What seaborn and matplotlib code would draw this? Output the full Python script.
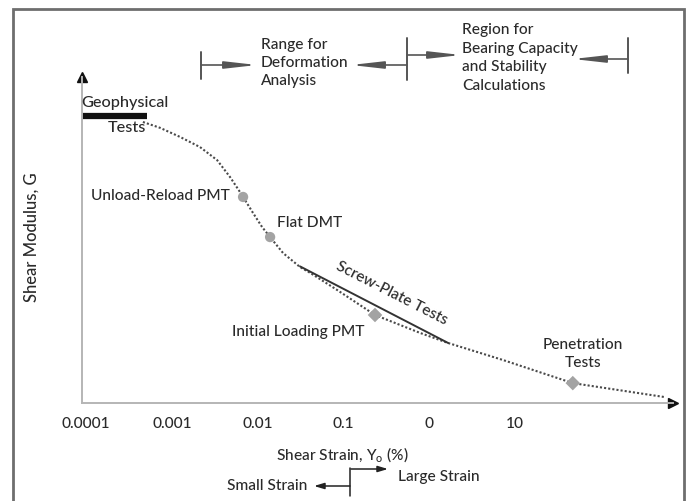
import matplotlib
matplotlib.use("Agg")
import matplotlib.pyplot as plt
import seaborn as sns
import pandas as pd
from matplotlib.patches import Rectangle

# ---------------- data ----------------
strain = [4.6e-4, 7.3e-4, 1.25e-3, 2.13e-3, 3.37e-3, 4.77e-3, 6.23e-3, 6.76e-3,
          8.83e-3, 0.01125, 0.01396, 0.01977, 0.0312, 0.041, 0.084, 0.233,
          0.78, 1.66, 7.2, 47, 560]
modulus = [86.2, 84.4, 81.6, 78.5, 74.5, 69.3, 64.7, 63.2,
           58.3, 54.0, 50.9, 46.0, 41.7, 39.9, 34.7, 27.0,
           21.5, 18.4, 13.2, 6.1, 1.8]

test_names = ["Unload-Reload PMT", "Flat DMT", "Initial Loading PMT", "Penetration Tests"]
test_strain = [6.76e-3, 0.01396, 0.233, 47]
test_modulus = [63.2, 50.9, 27.0, 6.1]
test_shape = ["circle", "circle", "diamond", "diamond"]

screw_strain = [0.0312, 1.66]
screw_modulus = [41.9, 18.4]

geo_strain = [9.0e-5, 5.1e-4]
geo_modulus = [88.0, 88.0]

xtick_values = [1e-4, 1e-3, 1e-2, 1e-1, 1, 10]
xtick_labels = ["0.0001", "0.001", "0.01", "0.1", "0", "10"]
ytick_values = [73.3, 55.2]
ytick_colors = ["#9a9a9a", "#222222"]

# ---------------- style ----------------
sns.set_theme(style="white")
plt.rcParams["font.family"] = ["Lato", "DejaVu Sans"]
plt.rcParams["font.weight"] = "medium"
plt.rcParams["mathtext.fontset"] = "custom"
plt.rcParams["mathtext.rm"] = "Lato"
plt.rcParams["mathtext.it"] = "Lato:italic"
TXT = "#2a2a2a"
FS = 11.2

W, H = 689, 501
fig = plt.figure(figsize=(W / 100, H / 100), dpi=100)
ax = fig.add_axes([82 / W, (H - 403) / H, (673 - 82) / W, (403 - 77) / H])


def P(x, y):
    return (x / W, 1 - y / H)


# curve
df = pd.DataFrame({"strain": strain, "G": modulus})
sns.lineplot(data=df, x="strain", y="G", ax=ax, color="#4a4a4a", lw=1.5,
             linestyle=(0, (1, 1)), sort=False, estimator=None)

# screw-plate solid line
sns.lineplot(x=screw_strain, y=screw_modulus, ax=ax, color="#333333", lw=1.4)

# geophysical bar
sns.lineplot(x=geo_strain, y=geo_modulus, ax=ax, color="#111111", lw=4.5,
             solid_capstyle="butt")

# test markers
dm = pd.DataFrame({"strain": test_strain, "G": test_modulus, "shape": test_shape})
sns.scatterplot(data=dm, x="strain", y="G", style="shape",
                markers={"circle": "o", "diamond": "D"}, color="#a3a3a3",
                s=55, edgecolor="none", ax=ax, legend=False, zorder=5)

ax.set_xscale("log")
ax.set_xlim(10 ** -4.047, 10 ** 2.84)
ax.set_ylim(0, 100)
ax.set_xticks(xtick_values)
ax.set_xticklabels(xtick_labels)
ax.xaxis.set_minor_locator(matplotlib.ticker.NullLocator())
ax.tick_params(axis="x", length=0, pad=10, labelsize=FS, labelcolor=TXT)
ax.set_yticks(ytick_values)
ax.set_yticklabels(["", ""])
ax.tick_params(axis="y", direction="inout", length=17, width=1.4)
for t, c in zip(ax.yaxis.get_major_ticks(), ytick_colors):
    t.tick1line.set_color(c)
ax.set_xlabel("")
ax.set_ylabel("")
for s in ["top", "right"]:
    ax.spines[s].set_visible(False)
for s in ["left", "bottom"]:
    ax.spines[s].set_color("#b5b5b5")
    ax.spines[s].set_linewidth(1.4)

# axis arrowheads
ax.plot([1], [0], marker=">", color="#111111", ms=7, transform=ax.transAxes, clip_on=False)
ax.plot([0], [1], marker="^", color="#111111", ms=7, transform=ax.transAxes, clip_on=False)

# axis titles
fig.text(*P(342, 455), "Shear Strain, Υ$_\\mathrm{o}$ (%)", ha="center", va="center",
         fontsize=FS, color=TXT)
fig.text(*P(32, 237), "Shear Modulus, G", ha="center", va="center", rotation=90,
         fontsize=12, color=TXT)

# annotations near curve
fig.text(*P(125, 103), "Geophysical", ha="center", va="center", fontsize=FS + 0.5, color=TXT)
fig.text(*P(127, 128), "Tests", ha="center", va="center", fontsize=FS + 0.5, color=TXT)
fig.text(*P(230, 196), test_names[0], ha="right", va="center", fontsize=FS, color=TXT)
fig.text(*P(277, 223), test_names[1], ha="left", va="center", fontsize=FS, color=TXT)
fig.text(*P(365, 332), test_names[2], ha="right", va="center", fontsize=FS, color=TXT)
fig.text(*P(583, 354), "Penetration\nTests", ha="center", va="center", fontsize=FS,
         color=TXT, linespacing=1.4)
fig.text(*P(392, 293), "Screw-Plate Tests", ha="center", va="center", rotation=-27,
         fontsize=FS, color=TXT, rotation_mode="anchor")

# top range annotations
GR = "#555555"
top_head = "-|>,head_length=1.6,head_width=0.18"


def arrow(tail, tip, style, color, lw=1.2):
    fig.add_artist(matplotlib.patches.FancyArrowPatch(
        P(*tail), P(*tip), transform=fig.transFigure, arrowstyle=style,
        mutation_scale=12, color=color, lw=lw, shrinkA=0, shrinkB=0))


def vbar(x, y0, y1, color, lw=1.4):
    fig.add_artist(matplotlib.lines.Line2D([x / W, x / W], [1 - y0 / H, 1 - y1 / H],
                                           transform=fig.transFigure, color=color, lw=lw))


vbar(201, 52, 79, GR)
arrow((201, 65), (257, 65), top_head, GR)
fig.text(*P(261, 63), "Range for\nDeformation\nAnalysis", ha="left", va="center",
         fontsize=FS, color=TXT, linespacing=1.4)
arrow((407, 65), (351, 65), top_head, GR)
vbar(407, 38, 80, GR)
arrow((407, 55), (461, 55), top_head, GR)
fig.text(*P(462, 58), "Region for\nBearing Capacity\nand Stability\nCalculations",
         ha="left", va="center", fontsize=FS, color=TXT, linespacing=1.4)
arrow((628, 59), (573, 59), top_head, GR)
vbar(628, 38, 73, GR)

# bottom small / large strain
BK = "#222222"
small_head = "-|>,head_length=0.5,head_width=0.15"
vbar(350, 468, 496, BK, lw=1.1)
arrow((350, 486), (314, 486), small_head, BK, lw=1.1)
arrow((351, 469), (388, 469), small_head, BK, lw=1.1)
fig.text(*P(307, 486), "Small Strain", ha="right", va="center", fontsize=FS, color=TXT)
fig.text(*P(398, 477), "Large Strain", ha="left", va="center", fontsize=FS, color=TXT)

# outer frame
fig.add_artist(Rectangle((13 / W, -0.02), (684 - 13) / W, 1.02 - 9 / H,
                         transform=fig.transFigure, fill=False, ec="#6e6e6e", lw=2))

fig.savefig("out.png", dpi=100)
